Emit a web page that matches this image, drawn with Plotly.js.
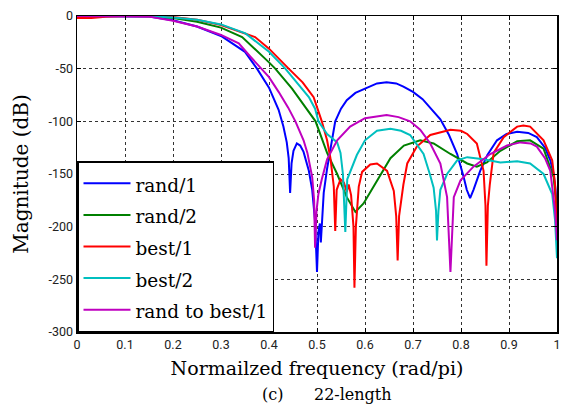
<!DOCTYPE html>
<html>
<head>
<meta charset="utf-8">
<script src="https://cdn.plot.ly/plotly-3.0.1.min.js"></script>
<style>html,body{margin:0;padding:0;background:#fff;}#chart{width:564px;height:405px;}</style>
</head>
<body>
<div id="chart"></div>
<script>
// Normalized frequency / magnitude (dB) samples
const seriesNames = ["rand/1", "rand/2", "best/1", "best/2", "rand to best/1"];
const seriesColors = ["#0000ff", "#008000", "#ff0000", "#00bfbf", "#bf00bf"];

const rand1F = [0, 0.05, 0.1, 0.15, 0.2, 0.25, 0.3, 0.35, 0.375, 0.4, 0.42, 0.43, 0.437, 0.441, 0.444, 0.447, 0.451, 0.458, 0.465, 0.472, 0.483, 0.49, 0.496, 0.5, 0.503, 0.506, 0.508, 0.511, 0.514, 0.521, 0.528, 0.538, 0.55, 0.562, 0.58, 0.6, 0.625, 0.645, 0.665, 0.68, 0.7, 0.72, 0.736, 0.757, 0.775, 0.792, 0.805, 0.812, 0.819, 0.826, 0.84, 0.855, 0.875, 0.895, 0.917, 0.94, 0.958, 0.975, 0.986, 0.993, 0.997, 1];
const rand1M = [0, 0, 0, -0.5, -4, -10, -19, -34, -50, -68, -89, -105, -120, -135, -168, -140, -128, -121, -123, -129, -147, -165, -195, -243, -205, -197, -215, -190, -168, -145, -128, -100, -88, -80, -73, -69, -64, -63, -64, -67, -72, -79, -87, -98, -113, -131, -152, -165, -173, -165, -147, -132, -118, -112, -110, -111, -115, -125, -137, -150, -165, -190];

const rand2F = [0, 0.05, 0.1, 0.15, 0.2, 0.25, 0.3, 0.344, 0.4, 0.413, 0.448, 0.497, 0.521, 0.542, 0.562, 0.58, 0.597, 0.625, 0.653, 0.681, 0.715, 0.743, 0.778, 0.813, 0.833, 0.854, 0.882, 0.917, 0.944, 0.972, 0.993, 1];
const rand2M = [0, 0, 0, -0.3, -2, -5.5, -11, -20, -44, -50, -69, -100, -130, -150, -172, -186, -178, -156, -135, -123, -118, -121, -131, -140, -143, -139, -128, -119, -118, -126, -153, -185];

const best1F = [0, 0.03, 0.06, 0.1, 0.15, 0.2, 0.25, 0.3, 0.371, 0.4, 0.441, 0.47, 0.493, 0.51, 0.521, 0.528, 0.535, 0.538, 0.541, 0.549, 0.556, 0.562, 0.566, 0.571, 0.576, 0.578, 0.581, 0.587, 0.594, 0.611, 0.625, 0.646, 0.66, 0.665, 0.668, 0.671, 0.68, 0.688, 0.708, 0.736, 0.778, 0.8, 0.813, 0.833, 0.847, 0.851, 0.853, 0.856, 0.86, 0.868, 0.889, 0.917, 0.93, 0.944, 0.972, 0.99, 0.996, 1];
const best1M = [-2, -1.8, -0.8, 0, 0, -1, -3.5, -8.5, -20, -31, -50, -63, -77, -100, -118, -135, -162, -204, -165, -155, -158, -167, -160, -170, -200, -258, -200, -162, -148, -141, -140, -147, -166, -190, -232, -190, -160, -140, -124, -113, -108, -109, -112, -121, -147, -180, -237, -180, -160, -130, -115, -105, -104, -105, -118, -137, -160, -210];

const best2F = [0, 0.05, 0.1, 0.15, 0.2, 0.25, 0.3, 0.351, 0.4, 0.434, 0.483, 0.496, 0.503, 0.521, 0.542, 0.549, 0.554, 0.559, 0.563, 0.573, 0.583, 0.6, 0.625, 0.653, 0.675, 0.694, 0.722, 0.735, 0.743, 0.748, 0.75, 0.753, 0.757, 0.771, 0.792, 0.813, 0.847, 0.882, 0.917, 0.944, 0.972, 0.99, 0.996, 1];
const best2M = [0, 0, 0, -0.2, -1.5, -3.5, -8, -16.5, -34, -50, -77, -88, -100, -112, -120, -130, -150, -205, -155, -143, -132, -118, -109, -107, -109, -113, -131, -150, -163, -185, -213, -185, -165, -150, -137, -134, -136, -139, -138, -140, -150, -169, -194, -230];

const rtb1F = [0, 0.05, 0.1, 0.15, 0.2, 0.25, 0.3, 0.337, 0.36, 0.385, 0.4, 0.42, 0.44, 0.455, 0.472, 0.48, 0.49, 0.494, 0.496, 0.499, 0.503, 0.51, 0.521, 0.542, 0.569, 0.6, 0.625, 0.645, 0.67, 0.694, 0.715, 0.736, 0.757, 0.771, 0.778, 0.785, 0.799, 0.826, 0.861, 0.896, 0.924, 0.945, 0.958, 0.975, 0.986, 0.996, 1];
const rtb1M = [0, 0, 0, -0.6, -4.5, -10, -18, -26, -38, -50, -58, -72, -87, -100, -118, -130, -153, -175, -220, -185, -169, -155, -136, -118, -105, -97, -95, -94, -96, -100, -108, -121, -140, -172, -243, -172, -156, -143, -131, -123, -120, -121, -124, -135, -147, -185, -213];

const xTickVals = [0, 0.1, 0.2, 0.3, 0.4, 0.5, 0.6, 0.7, 0.8, 0.9, 1];
const xTickText = ["0", "0.1", "0.2", "0.3", "0.4", "0.5", "0.6", "0.7", "0.8", "0.9", "1"];
const yTickVals = [0, -50, -100, -150, -200, -250, -300];
const yTickText = ["0", "-50", "-100", "-150", "-200", "-250", "-300"];

const xs = [rand1F, rand2F, best1F, best2F, rtb1F];
const ys = [rand1M, rand2M, best1M, best2M, rtb1M];

const traces = seriesNames.map((n, i) => ({
  type: "scatter", mode: "lines",
  name: '<span style="font-size:18.5px">' + n + '</span>',
  x: xs[i], y: ys[i],
  line: {color: seriesColors[i], width: 2}
}));

const tickFont = {family: "Roboto", size: 12.5, color: "#222"};
const serif = "DejaVu Serif";

const layout = {
  width: 564, height: 405,
  margin: {l: 77, r: 7, t: 16, b: 73},
  paper_bgcolor: "#fff", plot_bgcolor: "#fff",
  showlegend: true,
  legend: {
    x: 0, y: 0, xanchor: "left", yanchor: "bottom",
    bgcolor: "#fff", bordercolor: "#000", borderwidth: 1.5,
    font: {family: serif, size: 22, color: "#000"},
    itemwidth: 47, tracegroupgap: 0
  },
  xaxis: {
    range: [0, 1], tickvals: xTickVals, ticktext: xTickText,
    showgrid: true, gridcolor: "#333", griddash: "3px,3px", gridwidth: 1,
    showline: true, linecolor: "#000", linewidth: 1.5, mirror: "ticks",
    ticks: "inside", ticklen: 4, tickcolor: "#000",
    tickfont: tickFont, zeroline: false,
    title: {text: "Normailzed frequency (rad/pi)", font: {family: serif, size: 19, color: "#000"}, standoff: 11}
  },
  yaxis: {
    range: [-300, 0], tickvals: yTickVals, ticktext: yTickText,
    showgrid: true, gridcolor: "#333", griddash: "3px,3px", gridwidth: 1,
    showline: true, linecolor: "#000", linewidth: 1.5, mirror: "ticks",
    ticks: "inside", ticklen: 4, tickcolor: "#000",
    tickfont: tickFont, zeroline: false,
    title: {text: "Magnitude (dB)", font: {family: serif, size: 20, color: "#000"}, standoff: 14}
  },
  annotations: [{
    text: "(c)&nbsp;&nbsp;&nbsp;&nbsp;&nbsp;&nbsp;22-length",
    xref: "paper", yref: "paper", x: 0.52, y: 0, yshift: -51,
    xanchor: "center", yanchor: "top", showarrow: false,
    font: {family: serif, size: 16, color: "#000"}
  }]
};

Plotly.newPlot("chart", traces, layout, {displayModeBar: false, staticPlot: true});
</script>
</body>
</html>
